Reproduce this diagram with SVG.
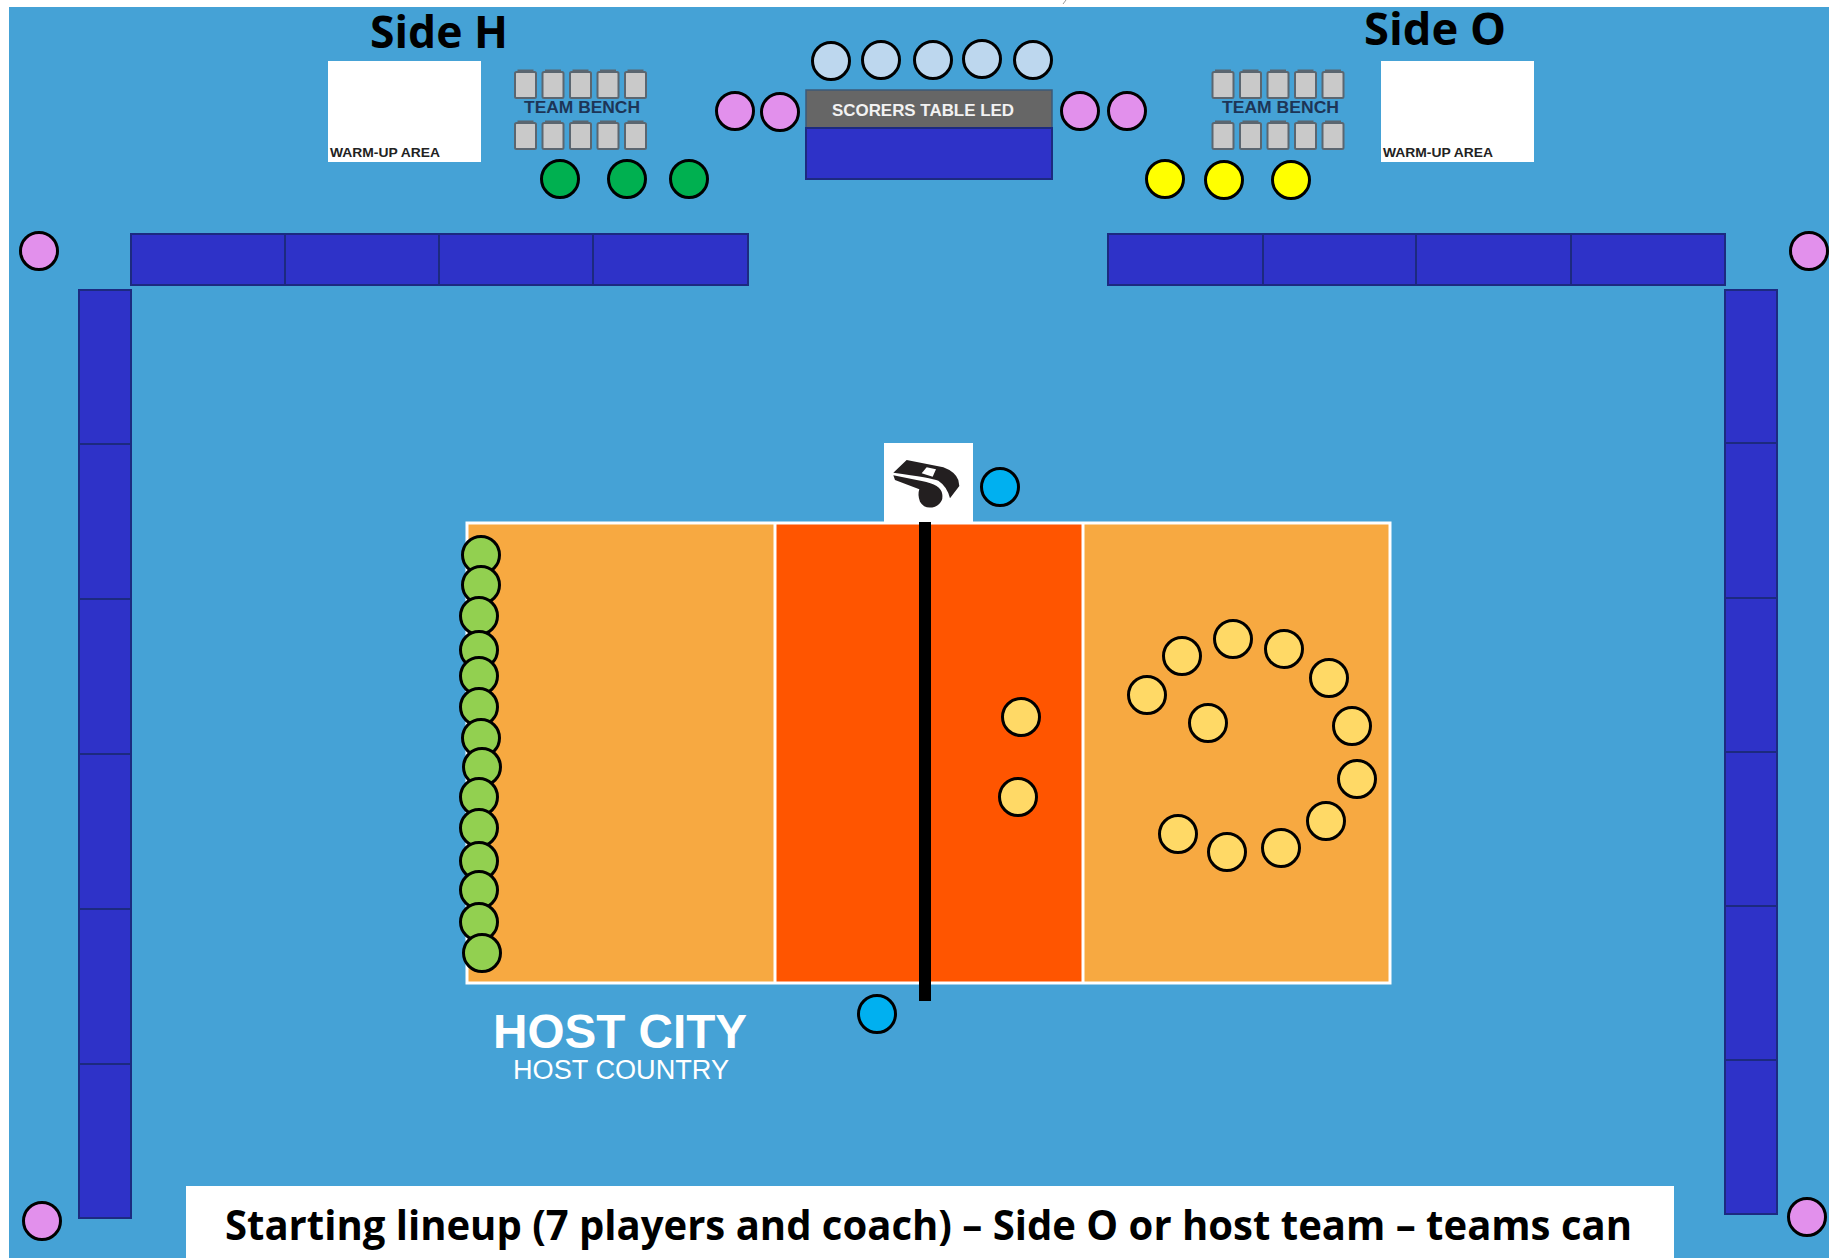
<svg xmlns="http://www.w3.org/2000/svg" xmlns:xlink="http://www.w3.org/1999/xlink" width="1829" height="1258" viewBox="0 0 1829 1258">
<style>
.pad{fill:#2e32c8;stroke:#1c2a80;stroke-width:2}
.p{stroke:#000;stroke-width:3}
.pink{fill:#e290ec}.lb{fill:#bdd7ee}.dg{fill:#00b050}.ye{fill:#ffff00}.lg{fill:#92d050}.ly{fill:#ffd966}.ref{fill:#00b0f0}
.h{font-family:"Open Sans","Liberation Sans",sans-serif;font-weight:700;fill:#000}
.s{font-family:"Liberation Sans",Arial,sans-serif;font-weight:700}
.line{fill:none;stroke:#fff;stroke-width:3}
</style>
<defs>
<g id="seat"><rect x="1.5" y="3" width="21" height="26" rx="1.5" fill="#c9c9c9" stroke="#5b6670" stroke-width="2"/><rect x="4" y="0.5" width="16" height="3" fill="#5b6670"/></g>
<g id="bench"><use href="#seat" x="0"/><use href="#seat" x="27.5"/><use href="#seat" x="55"/><use href="#seat" x="82.5"/><use href="#seat" x="110"/></g>
<circle id="c" r="18.5"/>
</defs>
<rect width="1829" height="1258" fill="#fff"/>
<rect x="9" y="7" width="1820" height="1251" fill="#45a2d6"/>
<path d="M1066 0L1063 4" stroke="#999" stroke-width="1" fill="none"/>

<g id="side-h-title"><text class="h" x="370" y="48" font-size="44" textLength="138" lengthAdjust="spacingAndGlyphs">Side H</text></g>
<g id="side-o-title"><text class="h" x="1364" y="45" font-size="44" textLength="142" lengthAdjust="spacingAndGlyphs">Side O</text></g>

<g id="warmup-h"><rect x="328" y="61" width="153" height="101" fill="#fff"/><text class="s" x="330" y="156.500" font-size="13" fill="#222" textLength="110" lengthAdjust="spacingAndGlyphs">WARM-UP AREA</text></g>
<g id="warmup-o"><rect x="1381" y="61" width="153" height="101" fill="#fff"/><text class="s" x="1383" y="156.500" font-size="13" fill="#222" textLength="110" lengthAdjust="spacingAndGlyphs">WARM-UP AREA</text></g>

<g id="bench-h"><use href="#bench" x="513.500" y="69"/><use href="#bench" x="513.500" y="120"/><text class="s" x="524" y="113" font-size="16" fill="#1d3557" textLength="116" lengthAdjust="spacingAndGlyphs">TEAM BENCH</text></g>
<g id="bench-o"><use href="#bench" x="1211" y="69"/><use href="#bench" x="1211" y="120"/><text class="s" x="1222" y="113" font-size="16" fill="#1d3557" textLength="117" lengthAdjust="spacingAndGlyphs">TEAM BENCH</text></g>

<g id="scorers-table"><rect x="806" y="90" width="246" height="38" fill="#666" stroke="#3c5a78" stroke-width="1.500"/><rect x="806" y="128" width="246" height="51" class="pad"/><text class="s" x="832" y="116" font-size="16.500" fill="#f2f2f2" textLength="182" lengthAdjust="spacingAndGlyphs">SCORERS TABLE LED</text></g>

<g id="ad-boards">
<rect x="131" y="234" width="154" height="51" class="pad"/><rect x="285" y="234" width="154" height="51" class="pad"/><rect x="439" y="234" width="154" height="51" class="pad"/><rect x="593" y="234" width="155" height="51" class="pad"/>
<rect x="1108" y="234" width="155" height="51" class="pad"/><rect x="1263" y="234" width="153" height="51" class="pad"/><rect x="1416" y="234" width="155" height="51" class="pad"/><rect x="1571" y="234" width="154" height="51" class="pad"/>
<rect x="79" y="290" width="52" height="154" class="pad"/><rect x="79" y="444" width="52" height="155" class="pad"/><rect x="79" y="599" width="52" height="155" class="pad"/><rect x="79" y="754" width="52" height="155" class="pad"/><rect x="79" y="909" width="52" height="155" class="pad"/><rect x="79" y="1064" width="52" height="154" class="pad"/>
<rect x="1725" y="290" width="52" height="153" class="pad"/><rect x="1725" y="443" width="52" height="155" class="pad"/><rect x="1725" y="598" width="52" height="154" class="pad"/><rect x="1725" y="752" width="52" height="154" class="pad"/><rect x="1725" y="906" width="52" height="154" class="pad"/><rect x="1725" y="1060" width="52" height="154" class="pad"/>
</g>

<g id="court">
<rect x="467" y="523" width="923" height="460" fill="#f7a941"/>
<rect x="775" y="523" width="308" height="460" fill="#ff5500"/>
<rect x="467" y="523" width="923" height="460" class="line"/>
<path d="M775 523V983M1083 523V983" class="line"/>
</g>
<g id="net"><rect x="919" y="522" width="12" height="479" fill="#000"/></g>

<g id="referee-stand"><rect x="884" y="443" width="89" height="79" fill="#fff"/>
<g transform="translate(860 430) scale(.3333)" fill="#231f20">
<path d="M100 128L140 90L250 112Q285 125 295 150L298 168L270 205Q262 170 235 152Q215 143 100 128Z"/>
<path d="M100 136L170 150Q235 160 245 185Q255 215 225 230Q195 240 180 215Q172 195 178 178L105 150Z"/>
<path d="M185 130L200 112L228 118L218 140Z" fill="#fff"/>
</g></g>

<g id="host-logo" fill="#fff">
<text x="493" y="1048" font-family="'Liberation Sans',Arial,sans-serif" font-weight="700" font-size="48" textLength="254" lengthAdjust="spacingAndGlyphs">HOST CITY</text>
<text x="513" y="1079" font-family="'Liberation Sans',Arial,sans-serif" font-size="27" textLength="216" lengthAdjust="spacingAndGlyphs">HOST COUNTRY</text>
</g>

<g id="line-judges" class="p pink">
<use href="#c" x="735" y="111"/><use href="#c" x="780" y="112"/><use href="#c" x="1080" y="111"/><use href="#c" x="1127" y="111"/>
<use href="#c" x="39" y="251"/><use href="#c" x="1809" y="251"/><use href="#c" x="42" y="1221"/><use href="#c" x="1807" y="1217"/>
</g>
<g id="officials" class="p lb">
<use href="#c" x="831" y="61"/><use href="#c" x="881" y="60"/><use href="#c" x="933" y="60"/><use href="#c" x="982" y="59"/><use href="#c" x="1033" y="60"/>
</g>
<g id="staff-h" class="p dg"><use href="#c" x="560" y="179"/><use href="#c" x="627" y="179"/><use href="#c" x="689" y="179"/></g>
<g id="staff-o" class="p ye"><use href="#c" x="1165" y="179"/><use href="#c" x="1224" y="180"/><use href="#c" x="1291" y="180"/></g>
<g id="referees" class="p ref"><use href="#c" x="1000" y="487"/><use href="#c" x="877" y="1014"/></g>

<g id="team-h" class="p lg">
<use href="#c" x="481" y="555"/><use href="#c" x="481" y="585"/><use href="#c" x="479" y="616"/><use href="#c" x="479" y="650"/><use href="#c" x="479" y="676"/><use href="#c" x="479" y="707"/><use href="#c" x="481" y="738"/><use href="#c" x="482" y="767"/><use href="#c" x="479" y="797"/><use href="#c" x="479" y="828"/><use href="#c" x="479" y="861"/><use href="#c" x="479" y="890"/><use href="#c" x="479" y="922"/><use href="#c" x="482" y="953"/>
</g>
<g id="team-o" class="p ly">
<use href="#c" x="1021" y="717"/><use href="#c" x="1018" y="797"/><use href="#c" x="1147" y="695"/><use href="#c" x="1182" y="656"/><use href="#c" x="1233" y="639"/><use href="#c" x="1284" y="649"/><use href="#c" x="1329" y="678"/><use href="#c" x="1352" y="726"/><use href="#c" x="1208" y="723"/><use href="#c" x="1357" y="779"/><use href="#c" x="1326" y="821"/><use href="#c" x="1281" y="848"/><use href="#c" x="1227" y="852"/><use href="#c" x="1178" y="834"/>
</g>

<g id="caption"><rect x="186" y="1186" width="1488" height="72" fill="#fff"/>
<text class="h" x="225" y="1240" font-size="41" textLength="1407" lengthAdjust="spacingAndGlyphs">Starting lineup (7 players and coach) – Side O or host team – teams can</text></g>
<g id="connectors"/>
</svg>
